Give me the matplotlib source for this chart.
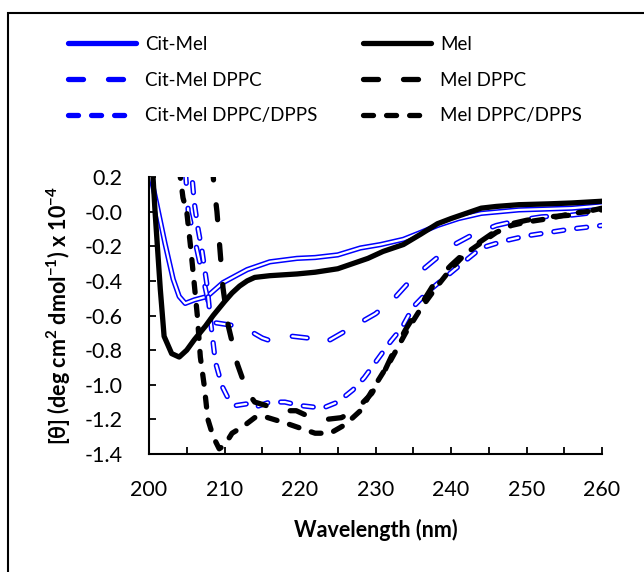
import numpy as np
import matplotlib
matplotlib.use("Agg")
import matplotlib.pyplot as plt
from matplotlib.lines import Line2D
from matplotlib.patches import Rectangle

plt.rcParams['font.family'] = ['Lato', 'DejaVu Sans']
plt.rcParams['axes.unicode_minus'] = False
plt.rcParams['lines.scale_dashes'] = False
plt.rcParams['mathtext.fontset'] = 'custom'
plt.rcParams['mathtext.rm'] = 'Lato:bold'
plt.rcParams['mathtext.bf'] = 'Lato:bold'
plt.rcParams['mathtext.default'] = 'bf'

# data (wavelength nm, ellipticity x 10^-4)
citmel_x = [200, 201, 202.1, 203.2, 204, 204.8, 206, 207.7, 209.8, 211.5, 213, 216, 219.6, 222,
            225, 228, 230.7, 233.7, 236, 238.2, 241, 244, 249, 256, 260]
citmel_y = [0.25, 0.05, -0.18, -0.39, -0.49, -0.53, -0.51, -0.49, -0.41, -0.37, -0.335, -0.29, -0.27, -0.265,
            -0.25, -0.21, -0.19, -0.16, -0.12, -0.08, -0.04, -0.01, 0.01, 0.02, 0.035]

citmel_dppc_x = [204.8, 205.2, 206, 207, 208, 208.5, 210, 211.5, 213, 215, 216, 217.5, 219, 221,
                 222.5, 224, 226, 228, 230, 232.5, 235, 237.5, 240, 243, 246, 249, 252, 256, 260]
citmel_dppc_y = [0.25, 0.0, -0.15, -0.35, -0.55, -0.64, -0.65, -0.66, -0.68, -0.73, -0.745, -0.73, -0.72, -0.73,
                 -0.765, -0.74, -0.69, -0.64, -0.59, -0.5, -0.38, -0.29, -0.2, -0.13, -0.08, -0.05, -0.03, -0.02, 0.0]

citmel_dpps_x = [205.5, 206, 206.5, 207, 207.7, 208.2, 208.8, 209.7, 210.5, 211.5, 213, 214, 216, 218,
                 220, 223, 225, 227, 228.5, 230, 232, 233.5, 235, 237, 239.5, 242, 244, 247, 250, 253, 256, 260]
citmel_dpps_y = [0.3, 0.05, -0.1, -0.22, -0.43, -0.65, -0.87, -1.01, -1.08, -1.12, -1.11, -1.13, -1.1, -1.1,
                 -1.12, -1.135, -1.1, -1.03, -0.96, -0.87, -0.75, -0.67, -0.55, -0.46, -0.37, -0.28, -0.21,
                 -0.17, -0.14, -0.12, -0.1, -0.08]

mel_x = [200, 200.8, 201.5, 202, 203, 204, 205, 206, 207.5, 208.5, 210, 211, 212, 213, 214, 216, 219.6,
         222, 225, 227, 229, 231, 233.7, 236, 238.2, 240, 242, 244, 246, 249, 253, 256, 260]
mel_y = [0.6, 0.0, -0.45, -0.72, -0.82, -0.84, -0.8, -0.74, -0.66, -0.6, -0.52, -0.47, -0.43, -0.4, -0.38,
         -0.37, -0.36, -0.35, -0.33, -0.3, -0.27, -0.23, -0.19, -0.13, -0.07, -0.04, -0.01, 0.02, 0.03, 0.04,
         0.045, 0.05, 0.06]

mel_dppc_x = [208, 208.6, 209, 209.4, 209.8, 210.5, 211.7, 213, 214, 215.5, 217.5, 219.5, 221.5, 223.5,
              225.5, 227.5, 229.5, 231, 232.5, 234, 236, 238, 240, 242, 244, 246, 248, 250, 253, 256, 260]
mel_dppc_y = [0.5, 0.15, 0.0, -0.22, -0.44, -0.66, -0.88, -1.04, -1.1, -1.12, -1.15, -1.15, -1.19, -1.2,
              -1.19, -1.14, -1.05, -0.94, -0.8, -0.68, -0.54, -0.4, -0.31, -0.23, -0.17, -0.11, -0.07, -0.05,
              -0.03, -0.02, 0.02]

mel_dpps_x = [204, 204.5, 205, 205.5, 206, 206.4, 206.8, 207.3, 207.8, 208.5, 209.3, 210, 211, 212.5, 214,
              215, 216.5, 218, 220, 222, 224, 226, 228, 230, 232, 234, 236, 238, 240, 242, 244, 246, 248,
              250, 253, 256, 260]
mel_dpps_y = [0.25, 0.08, 0.0, -0.2, -0.42, -0.6, -0.84, -1.0, -1.2, -1.3, -1.37, -1.35, -1.28, -1.24, -1.19,
              -1.18, -1.2, -1.22, -1.25, -1.28, -1.28, -1.23, -1.15, -1.0, -0.86, -0.7, -0.56, -0.44, -0.33,
              -0.24, -0.18, -0.12, -0.08, -0.06, -0.04, -0.01, 0.01]

labels = ['Cit-Mel', 'Cit-Mel DPPC', 'Cit-Mel DPPC/DPPS', 'Mel', 'Mel DPPC', 'Mel DPPC/DPPS']

lw = 3.8
long_dash = (10.8, 18.0)
short_dash = (7.2, 9.4)

fig = plt.figure(figsize=(6.44, 5.72), dpi=100)
ax = fig.add_axes([149 / 644, 1 - 454 / 572, (602 - 149) / 644, (454 - 177) / 572])

# outer frame (only top and left visible)
fig.patches.append(Rectangle((8 / 644, -0.1), 1.2, 1 - 13 / 572 + 0.1, transform=fig.transFigure,
                             fill=False, edgecolor='black', linewidth=1.5))


def outlined(x, y, dashes=None):
    if dashes is None:
        ax.plot(x, y, color='#0000ff', lw=lw, solid_capstyle='round', solid_joinstyle='round')
        ax.plot(x, y, color='white', lw=1.6, solid_capstyle='round', solid_joinstyle='round')
    else:
        ax.plot(x, y, color='#0000ff', lw=lw, dashes=dashes, dash_capstyle='round', dash_joinstyle='round')
        ax.plot(x, y, color='white', lw=1.6, dashes=dashes, dash_capstyle='round', dash_joinstyle='round')


outlined(citmel_x, citmel_y)
outlined(citmel_dppc_x, citmel_dppc_y, long_dash)
outlined(citmel_dpps_x, citmel_dpps_y, short_dash)

ax.plot(mel_x, mel_y, color='black', lw=lw, solid_capstyle='round', solid_joinstyle='round')
ax.plot(mel_dppc_x, mel_dppc_y, color='black', lw=lw, dashes=long_dash, dash_capstyle='round')
ax.plot(mel_dpps_x, mel_dpps_y, color='black', lw=lw, dashes=short_dash, dash_capstyle='round')

ax.set_xlim(200, 260)
ax.set_ylim(-1.4, 0.2)
ax.set_xticks(np.arange(200, 261, 10))
ax.set_xticks(np.arange(200, 261, 5), minor=True)
ax.set_yticks(np.arange(-1.4, 0.21, 0.2))
ax.set_yticklabels(['%.1f' % v for v in np.arange(-1.4, 0.21, 0.2)])
ax.tick_params(which='both', direction='in', length=5, width=1.3, labelsize=15.5, pad=19)
ax.spines['top'].set_visible(False)
ax.spines['right'].set_visible(False)
ax.spines['left'].set_linewidth(1.5)
ax.spines['bottom'].set_linewidth(1.5)

ax.set_xlabel('Wavelength (nm)', fontsize=15.5, fontweight='bold', labelpad=13)
ax.set_ylabel(r'[θ] (deg cm$^{2}$ dmol$^{-1}$) x 10$^{-4}$', fontsize=15.5, fontweight='bold', labelpad=8)

handles = [
    Line2D([], [], color='#0000ff', lw=lw, solid_capstyle='round'),
    Line2D([], [], color='#0000ff', lw=lw, dashes=long_dash, dash_capstyle='round'),
    Line2D([], [], color='#0000ff', lw=lw, dashes=short_dash, dash_capstyle='round'),
    Line2D([], [], color='black', lw=lw, solid_capstyle='round'),
    Line2D([], [], color='black', lw=lw, dashes=long_dash, dash_capstyle='round'),
    Line2D([], [], color='black', lw=lw, dashes=short_dash, dash_capstyle='round'),
]
fig.legend(handles, labels, ncol=2, loc='upper left', bbox_to_anchor=(68 / 644, 1 - 36 / 572),
           frameon=False, fontsize=13.5, handlelength=3.6, handletextpad=0.5, columnspacing=2.45,
           labelspacing=1.0, borderpad=0, borderaxespad=0)

fig.savefig('out.png', dpi=100)
